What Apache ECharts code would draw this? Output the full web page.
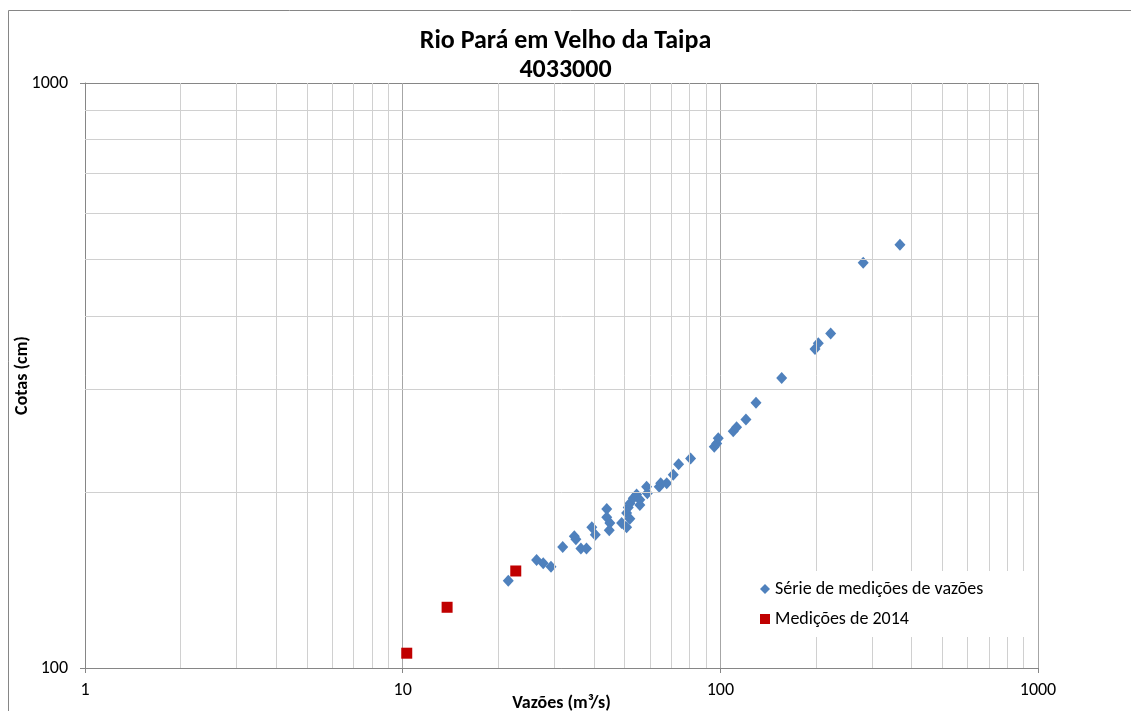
<!DOCTYPE html>
<html>
<head>
<meta charset="UTF-8">
<title>Rio Pará em Velho da Taipa</title>
<script type="text/javascript" src="https://cdn.jsdelivr.net/npm/echarts@6/dist/echarts.min.js"></script>
<style>
html,body{margin:0;padding:0;background:#fff;}
</style>
</head>
<body>
<div id="box" style="width:1131px;height:711px;"></div>

<script type="text/javascript">
var font = 'Carlito, "Liberation Sans", sans-serif';

// série de medições de vazões: [vazão m3/s, cota cm]
var serieVazoes = [21.5, 26.4, 27.7, 29.3, 31.9, 34.7, 35.1, 36.4, 37.9, 39.4,
  40.4, 43.9, 43.9, 44.9, 44.7, 48.9, 50.7, 50.7, 51.9, 51.3,
  51.9, 53.2, 54.5, 55.8, 55.8, 58.6, 58.9, 64.2, 64.9, 67.8,
  71.1, 73.9, 80.6, 95.7, 97.4, 98.5, 109.8, 112.5, 120.4, 129.5,
  156.0, 198.6, 203.4, 222.5, 281.7, 367.6];
var serieCotas = [141, 153, 151, 149, 161, 168, 166, 160, 160, 174,
  169, 187, 181, 177, 172, 177, 174, 184, 180, 188,
  191, 195, 198, 194, 190, 204, 199, 204, 207, 207,
  214, 223, 228, 239, 242, 247, 254, 258, 266, 284,
  313, 351, 359, 373, 493, 529];

// medições de 2014
var vazoes2014 = [10.3, 13.8, 22.7];
var cotas2014 = [106, 127, 146.5];

// linhas de grade secundárias
var xMinorTicks = [2, 3, 4, 5, 6, 7, 8, 9, 20, 30, 40, 50, 60, 70, 80, 90, 200, 300, 400, 500, 600, 700, 800, 900];
var yMinorTicks = [200, 300, 400, 500, 600, 700, 800, 900];

function pairs(xs, ys){
  var out = [];
  for (var i = 0; i < xs.length; i++) out.push([xs[i], ys[i]]);
  return out;
}

var minorLines = [];
for (var i = 0; i < xMinorTicks.length; i++) minorLines.push({xAxis: xMinorTicks[i]});
for (var j = 0; j < yMinorTicks.length; j++) minorLines.push({yAxis: yMinorTicks[j]});

var mychart = echarts.init(document.getElementById('box'));

mychart.setOption({
  animation: false,
  backgroundColor: '#fff',
  textStyle: {fontFamily: font},
  graphic: [{
    type: 'rect',
    silent: true,
    shape: {x: 8.5, y: 10.5, width: 1300, height: 900},
    style: {fill: 'none', stroke: '#868686', lineWidth: 1}
  }],
  title: {
    text: 'Rio Pará em Velho da Taipa\n4033000',
    left: 'center',
    top: 22,
    textStyle: {fontFamily: font, fontSize: 26, fontWeight: 'bold', color: '#000', lineHeight: 29}
  },
  legend: {
    orient: 'vertical',
    left: 752,
    top: 571,
    padding: [9, 48, 9, 8],
    itemGap: 12,
    itemWidth: 10,
    itemHeight: 10,
    backgroundColor: '#fff',
    z: 10,
    textStyle: {fontFamily: font, fontSize: 18, color: '#000'},
    data: [
      {name: 'Série de medições de vazões', icon: 'diamond'},
      {name: 'Medições de 2014', icon: 'rect'}
    ]
  },
  grid: {left: 85, right: 93, top: 83, bottom: 43, outerBoundsMode: 'none'},
  xAxis: {
    type: 'log',
    logBase: 10,
    min: 1,
    max: 1000,
    name: 'Vazões (m³/s)',
    nameLocation: 'middle',
    nameGap: 26,
    nameMoveOverlap: false,
    nameTextStyle: {fontFamily: font, fontSize: 18, fontWeight: 'bold', color: '#000'},
    axisLine: {show: true, onZero: false, lineStyle: {color: '#868686'}},
    axisTick: {show: true, length: 5, lineStyle: {color: '#868686'}},
    axisLabel: {fontFamily: font, fontSize: 18, color: '#000', margin: 13, formatter: function(v){ return String(v); }},
    splitLine: {show: true, lineStyle: {color: '#a6a6a6'}}
  },
  yAxis: {
    type: 'log',
    logBase: 10,
    min: 100,
    max: 1000,
    name: 'Cotas (cm)',
    nameLocation: 'middle',
    nameGap: 54,
    nameMoveOverlap: false,
    nameTextStyle: {fontFamily: font, fontSize: 18, fontWeight: 'bold', color: '#000'},
    axisLine: {show: true, onZero: false, lineStyle: {color: '#868686'}},
    axisTick: {show: true, length: 5, lineStyle: {color: '#868686'}},
    axisLabel: {fontFamily: font, fontSize: 18, color: '#000', margin: 17, formatter: function(v){ return String(v); }},
    splitLine: {show: true, lineStyle: {color: '#868686'}}
  },
  series: [{
    name: 'grade',
    type: 'scatter',
    data: [],
    z: 1,
    silent: true,
    markLine: {
      silent: true,
      symbol: 'none',
      label: {show: false},
      animation: false,
      lineStyle: {color: '#d0d0d0', width: 1, type: 'solid'},
      data: minorLines
    }
  }, {
    name: 'Série de medições de vazões',
    type: 'scatter',
    symbol: 'diamond',
    symbolSize: [11, 12],
    itemStyle: {color: '#4f81bd', opacity: 1},
    z: 3,
    data: pairs(serieVazoes, serieCotas)
  }, {
    name: 'Medições de 2014',
    type: 'scatter',
    symbol: 'rect',
    symbolSize: 11,
    itemStyle: {color: '#c00000', opacity: 1},
    z: 4,
    data: pairs(vazoes2014, cotas2014)
  }]
});
</script>
</body>
</html>
